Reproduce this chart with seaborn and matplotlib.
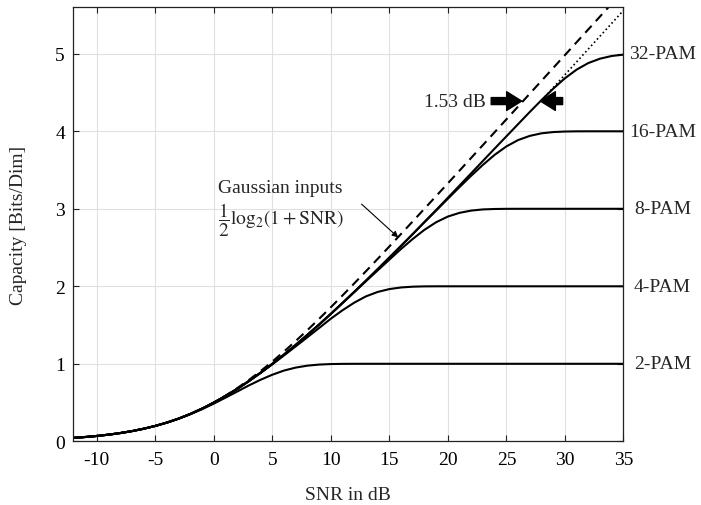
import numpy as np
import pandas as pd
import matplotlib
matplotlib.use("Agg")
import matplotlib.pyplot as plt
import seaborn as sns

# ---------------- data ----------------
snr_db = list(range(-12, 36))  # -12 ... 35 dB

cap_gauss = [0.0441, 0.0551, 0.0688, 0.0855, 0.1061, 0.1312, 0.1617, 0.1982, 0.2418, 0.2930,
             0.3529, 0.4217, 0.5000, 0.5878, 0.6851, 0.7913, 0.9061, 1.0287, 1.1582, 1.2939,
             1.4349, 1.5804, 1.7297, 1.8822, 2.0373, 2.1945, 2.3535, 2.5139, 2.6756, 2.8380,
             3.0011, 3.1649, 3.3291, 3.4937, 3.6587, 3.8238, 3.9892, 4.1547, 4.3203, 4.4860,
             4.6518, 4.8177, 4.9836, 5.1496, 5.3156, 5.4816, 5.6477, 5.8138]

cap_2pam = [0.0441, 0.0550, 0.0686, 0.0852, 0.1056, 0.1305, 0.1615, 0.1976, 0.2406, 0.2910,
            0.3490, 0.4140, 0.4860, 0.5630, 0.6420, 0.7210, 0.7940, 0.8590, 0.9130, 0.9510,
            0.9760, 0.9900, 0.9967, 0.9991, 0.9998, 1.0, 1.0, 1.0, 1.0, 1.0,
            1.0, 1.0, 1.0, 1.0, 1.0, 1.0, 1.0, 1.0, 1.0, 1.0,
            1.0, 1.0, 1.0, 1.0, 1.0, 1.0, 1.0, 1.0]

cap_4pam = [0.0441, 0.0551, 0.0688, 0.0855, 0.1061, 0.1312, 0.1617, 0.1982, 0.2418, 0.2930,
            0.3528, 0.4214, 0.4980, 0.5830, 0.6750, 0.7750, 0.8820, 0.9930, 1.1080, 1.2250,
            1.3430, 1.4620, 1.5820, 1.6910, 1.7890, 1.8700, 1.9270, 1.9640, 1.9850, 1.9950,
            1.9990, 2.0, 2.0, 2.0, 2.0, 2.0, 2.0, 2.0, 2.0, 2.0,
            2.0, 2.0, 2.0, 2.0, 2.0, 2.0, 2.0, 2.0]

cap_8pam = [0.0441, 0.0551, 0.0688, 0.0855, 0.1061, 0.1312, 0.1617, 0.1982, 0.2418, 0.2930,
            0.3529, 0.4216, 0.4990, 0.5850, 0.6770, 0.7780, 0.8850, 0.9990, 1.1190, 1.2440,
            1.3740, 1.5070, 1.6440, 1.7850, 1.9250, 2.0660, 2.2050, 2.3440, 2.4820, 2.6110,
            2.7290, 2.8270, 2.9000, 2.9480, 2.9770, 2.9920, 2.9975, 2.9995, 3.0, 3.0,
            3.0, 3.0, 3.0, 3.0, 3.0, 3.0, 3.0, 3.0]

cap_16pam = [0.0441, 0.0551, 0.0688, 0.0855, 0.1061, 0.1312, 0.1617, 0.1982, 0.2418, 0.2930,
             0.3529, 0.4216, 0.4990, 0.5850, 0.6770, 0.7780, 0.8850, 0.9990, 1.1190, 1.2440,
             1.3740, 1.5070, 1.6440, 1.7850, 1.9280, 2.0730, 2.2210, 2.3710, 2.5220, 2.6740,
             2.8280, 2.9780, 3.1300, 3.2810, 3.4280, 3.5680, 3.6970, 3.8050, 3.8870, 3.9410,
             3.9740, 3.9900, 3.9970, 3.9995, 4.0, 4.0, 4.0, 4.0]

cap_32pam = [0.0441, 0.0551, 0.0688, 0.0855, 0.1061, 0.1312, 0.1617, 0.1982, 0.2418, 0.2930,
             0.3529, 0.4216, 0.4990, 0.5850, 0.6770, 0.7780, 0.8850, 0.9990, 1.1190, 1.2440,
             1.3740, 1.5070, 1.6440, 1.7850, 1.9280, 2.0730, 2.2210, 2.3710, 2.5220, 2.6750,
             2.8300, 2.9850, 3.1430, 3.3010, 3.4600, 3.6190, 3.7780, 3.9350, 4.0930, 4.2500,
             4.4030, 4.5500, 4.6840, 4.7960, 4.8810, 4.9370, 4.9720, 4.9890]

snr_shaping = [28, 29, 30, 31, 32, 33, 34, 35]
cap_shaping = [4.398, 4.564, 4.730, 4.896, 5.062, 5.228, 5.394, 5.560]

pam_labels = ["2-PAM", "4-PAM", "8-PAM", "16-PAM", "32-PAM"]
pam_levels = [1, 2, 3, 4, 5]

x_ticks = [-10, -5, 0, 5, 10, 15, 20, 25, 30, 35]
y_ticks = [0, 1, 2, 3, 4, 5]

# ---------------- style ----------------
sns.set_style("ticks")
plt.rcParams["font.family"] = ["Liberation Serif", "DejaVu Serif"]
plt.rcParams["mathtext.fontset"] = "stix"
FS = 14

fig, ax = plt.subplots(figsize=(7.01, 5.06), dpi=100)
fig.subplots_adjust(left=0.1046, right=0.8894, bottom=0.1259, top=0.9836)

# shaping-gap asymptote (dotted)
sns.lineplot(x=snr_shaping, y=cap_shaping, ax=ax, color="black", lw=1.2)
ax.lines[-1].set_linestyle((0, (1, 1.6)))

for caps in [cap_2pam, cap_4pam, cap_8pam, cap_16pam, cap_32pam]:
    sns.lineplot(x=snr_db, y=caps, ax=ax, color="black", lw=1.5)

sns.lineplot(x=snr_db, y=cap_gauss, ax=ax, color="black", lw=1.5)
ax.lines[-1].set_dashes((4.5, 3))

ax.set_xlim(-12, 35)
ax.set_ylim(0, 5.6)
ax.set_xticks(x_ticks)
ax.set_xticklabels([str(v) for v in x_ticks])
ax.set_yticks(y_ticks)
ax.set_yticklabels([str(v) for v in y_ticks])
ax.grid(True, color="#e0e0e0", lw=0.8)
ax.set_axisbelow(True)
for s in ax.spines.values():
    s.set_visible(True)
    s.set_color("#222222")
    s.set_linewidth(0.9)
ax.tick_params(direction="in", length=4, width=0.8, top=True, right=True,
               labelsize=FS, colors="#222222", labelcolor="black")
ax.tick_params(axis="x", pad=7)
ax.tick_params(axis="y", pad=6)

ax.set_xlabel("SNR in dB", fontsize=FS, labelpad=13)
ax.set_ylabel("Capacity [Bits/Dim]", fontsize=FS, labelpad=20)

# right-side labels
for lab, lev in zip(pam_labels, pam_levels):
    ax.text(1.071, lev, lab, transform=ax.get_yaxis_transform(), ha="center",
            va="center", fontsize=FS, clip_on=False)

# annotations
ax.text(5.7, 3.27, "Gaussian inputs", ha="center", va="center", fontsize=FS)
ax.text(5.7, 2.86, r"$\dfrac{1}{2}\mathrm{log}_2(1+\mathrm{SNR})$", ha="center",
        va="center", fontsize=FS)
ax.annotate("", xy=(15.76, 2.63), xytext=(12.63, 3.06),
            arrowprops=dict(arrowstyle="-|>", color="black", lw=0.8,
                            mutation_scale=9, shrinkA=0, shrinkB=0))

ax.text(20.6, 4.39, "1.53 dB", ha="center", va="center", fontsize=FS)
arrow_kw = dict(arrowstyle="simple,head_length=0.6,head_width=0.75,tail_width=0.28",
                fc="black", ec="black", mutation_scale=18, shrinkA=0, shrinkB=0)
ax.annotate("", xy=(26.3, 4.39), xytext=(23.7, 4.39), arrowprops=arrow_kw)
ax.annotate("", xy=(27.9, 4.39), xytext=(29.8, 4.39), arrowprops=arrow_kw)

fig.savefig("out.png", dpi=100)
